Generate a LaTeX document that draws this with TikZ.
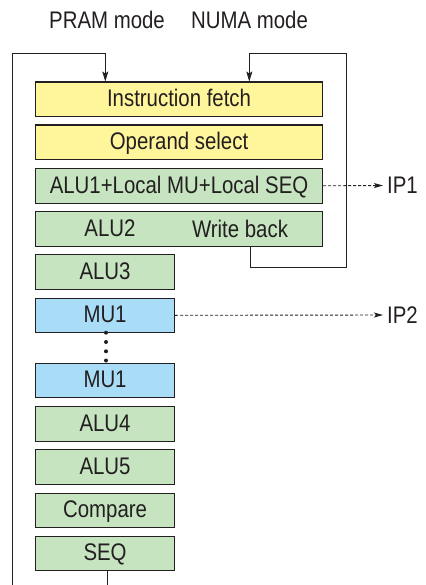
\documentclass[tikz,border=0pt]{standalone}
\usepackage{fontspec}
\setmainfont{Liberation Sans}[FakeStretch=0.85]
\usetikzlibrary{arrows.meta,positioning}
\definecolor{ink}{HTML}{231F20}
\definecolor{yel}{HTML}{FFF59B}
\definecolor{grn}{HTML}{C6E4C0}
\definecolor{blu}{HTML}{A9DDF7}
\tikzset{
  stage/.style={draw=ink, line width=1.1pt, inner sep=0pt, anchor=north west,
    minimum height=34.5pt, text=ink, font=\fontsize{24}{26}\selectfont,
    text height=17pt, text depth=2.5pt},
  wide/.style={stage, minimum width=287pt},
  narrow/.style={stage, minimum width=139pt},
  lbl/.style={text=ink, font=\fontsize{24}{26}\selectfont, inner sep=0pt},
  conn/.style={draw=ink, line width=0.9pt},
  tip/.style={-{Stealth[length=10pt,width=6pt,inset=2pt]}},
  dtip/.style={dashed, dash pattern=on 3pt off 2pt, shorten >=4pt, -{Stealth[length=9pt,width=5pt,inset=2pt]}},
  dot/.style={circle, fill=ink, inner sep=0pt, minimum size=4pt}
}
\begin{document}
\begin{tikzpicture}[x=1pt,y=-1pt]
\useasboundingbox (0,0) rectangle (425,585);
\node[wide, fill=yel] (IF) at (35,81.5) {Instruction fetch};
\node[wide, fill=yel] (OS) at (35,124.5) {Operand select};
\node[wide, fill=grn] (A1) at (35,168) {ALU1+Local MU+Local SEQ};
\node[wide, fill=grn] (A2) at (35,211) {};
\node[lbl] (a2t) at (110,228.5) {ALU2};
\node[lbl] (wbt) at (240,228.5) {Write back};
\node[narrow, fill=grn] (A3) at (35,254) {ALU3};
\node[narrow, fill=blu] (M1) at (35,297.5) {MU1};
\node[narrow, fill=blu] (M2) at (35,362.5) {MU1};
\node[narrow, fill=grn] (A4) at (35,406) {ALU4};
\node[narrow, fill=grn] (A5) at (35,449) {ALU5};
\node[narrow, fill=grn] (CP) at (35,492.5) {Compare};
\node[narrow, fill=grn] (SQ) at (35,535.5) {SEQ};

\node[lbl] (pram) at (107,20) {PRAM mode};
\node[lbl] (numa) at (249.5,20) {NUMA mode};
\node[lbl, anchor=west] (ip1) at (387,185.5) {IP1};
\node[lbl, anchor=west] (ip2) at (387,315) {IP2};

\foreach \i/\yy in {1/332.7,2/342,3/351.3,4/360.5}
  \node[dot] (d\i) at (106,\yy) {};

% PRAM loop
\coordinate (bl) at (12.7,585);
\coordinate (sb) at (107,585);
\draw[conn] (SQ.south -| sb) -- (sb);
\draw[conn, tip] (bl) -- (12.7,53.3) -- (105.3,53.3) -- (105.3,81.5);
% NUMA loop
\draw[conn, tip] (250.7,246) -- (250.7,267.7) -- (346,267.7) -- (346,53.3) -- (249.3,53.3) -- (249.3,81.5);
% dashed outputs
\draw[conn, dtip] (A1.east) -- (ip1.west);
\draw[conn, dtip] (M1.east) -- (ip2.west);
\end{tikzpicture}
\end{document}
